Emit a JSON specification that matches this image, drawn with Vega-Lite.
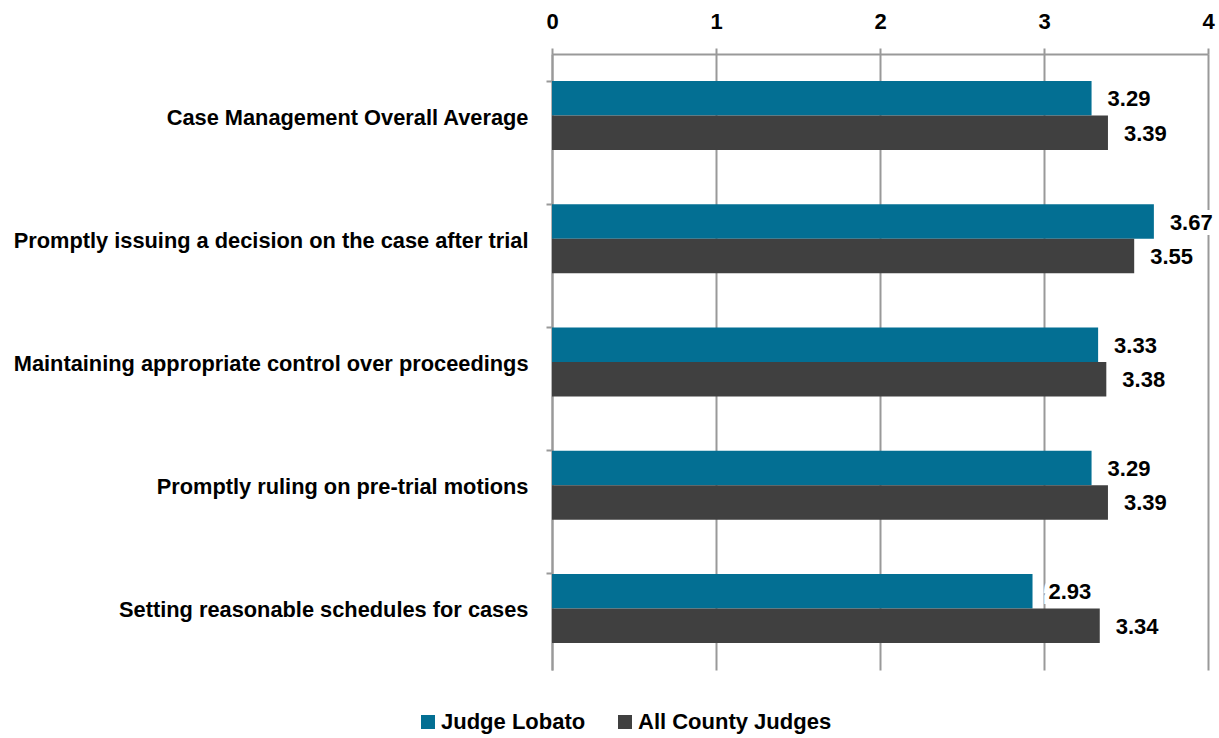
{
  "$schema": "https://vega.github.io/schema/vega-lite/v6.json",
  "width": 656,
  "height": 616,
  "autosize": {"type": "none"},
  "padding": {"left": 552, "top": 54, "right": 11, "bottom": 68},
  "background": "white",
  "config": {
    "view": {"stroke": null},
    "font": "Liberation Sans",
    "text": {"font": "Liberation Sans"}
  },
  "data": {
    "values": [
      {"item": "Case Management Overall Average", "series": "Judge Lobato", "score": 3.29},
      {"item": "Case Management Overall Average", "series": "All County Judges", "score": 3.39},
      {"item": "Promptly issuing a decision on the case after trial", "series": "Judge Lobato", "score": 3.67},
      {"item": "Promptly issuing a decision on the case after trial", "series": "All County Judges", "score": 3.55},
      {"item": "Maintaining appropriate control over proceedings", "series": "Judge Lobato", "score": 3.33},
      {"item": "Maintaining appropriate control over proceedings", "series": "All County Judges", "score": 3.38},
      {"item": "Promptly ruling on pre-trial motions", "series": "Judge Lobato", "score": 3.29},
      {"item": "Promptly ruling on pre-trial motions", "series": "All County Judges", "score": 3.39},
      {"item": "Setting reasonable schedules for cases", "series": "Judge Lobato", "score": 2.93},
      {"item": "Setting reasonable schedules for cases", "series": "All County Judges", "score": 3.34}
    ]
  },
  "encoding": {
    "y": {
      "field": "item",
      "type": "nominal",
      "sort": null,
      "scale": {"paddingInner": 0.44, "paddingOuter": 0.22},
      "axis": {
        "title": null,
        "labelFont": "Liberation Sans",
        "labelFontWeight": "bold",
        "labelFontSize": 21.8,
        "labelColor": "#000000",
        "labelPadding": 18,
        "labelLimit": 600,
        "labelOffset": 2,
        "domainColor": "#999999",
        "domainWidth": 2,
        "tickColor": "#999999",
        "tickWidth": 2,
        "tickSize": 6,
        "bandPosition": 0
      }
    },
    "yOffset": {
      "field": "series",
      "type": "nominal",
      "sort": ["Judge Lobato", "All County Judges"]
    },
    "x": {
      "field": "score",
      "type": "quantitative",
      "scale": {"domain": [0, 4], "nice": false},
      "axis": {
        "orient": "top",
        "title": null,
        "values": [0, 1, 2, 3, 4],
        "format": "d",
        "labelFont": "Liberation Sans",
        "labelFontWeight": "bold",
        "labelFontSize": 22,
        "labelColor": "#000000",
        "labelPadding": 15,
        "labelFlush": false,
        "domainColor": "#999999",
        "domainWidth": 2,
        "tickColor": "#999999",
        "tickWidth": 2,
        "tickSize": 6,
        "grid": true,
        "gridColor": "#999999",
        "gridWidth": 2
      }
    }
  },
  "layer": [
    {
      "mark": {"type": "bar"},
      "encoding": {
        "color": {
          "field": "series",
          "type": "nominal",
          "sort": ["Judge Lobato", "All County Judges"],
          "scale": {"domain": ["Judge Lobato", "All County Judges"], "range": ["#036f93", "#404040"]},
          "legend": {
            "title": null,
            "orient": "none",
            "direction": "horizontal",
            "legendX": -135,
            "legendY": 657,
            "symbolType": "square",
            "symbolSize": 196,
            "symbolStrokeWidth": 0,
            "symbolOpacity": 1,
            "labelFont": "Liberation Sans",
            "labelFontWeight": "bold",
            "labelFontSize": 22,
            "labelColor": "#000000",
            "labelOffset": 2,
            "columnPadding": 28,
            "labelLimit": 400
          }
        }
      }
    },
    {
      "mark": {"type": "text", "align": "left", "baseline": "middle", "dx": 16, "dy": 1, "fontSize": 22, "fontWeight": "bold", "font": "Liberation Sans", "stroke": "white", "strokeWidth": 10, "fill": "white"},
      "encoding": {"text": {"field": "score", "type": "quantitative", "format": ".2f"}}
    },
    {
      "mark": {"type": "text", "align": "left", "baseline": "middle", "dx": 16, "dy": 1, "fontSize": 22, "fontWeight": "bold", "font": "Liberation Sans", "fill": "#000000"},
      "encoding": {"text": {"field": "score", "type": "quantitative", "format": ".2f"}}
    }
  ]
}
